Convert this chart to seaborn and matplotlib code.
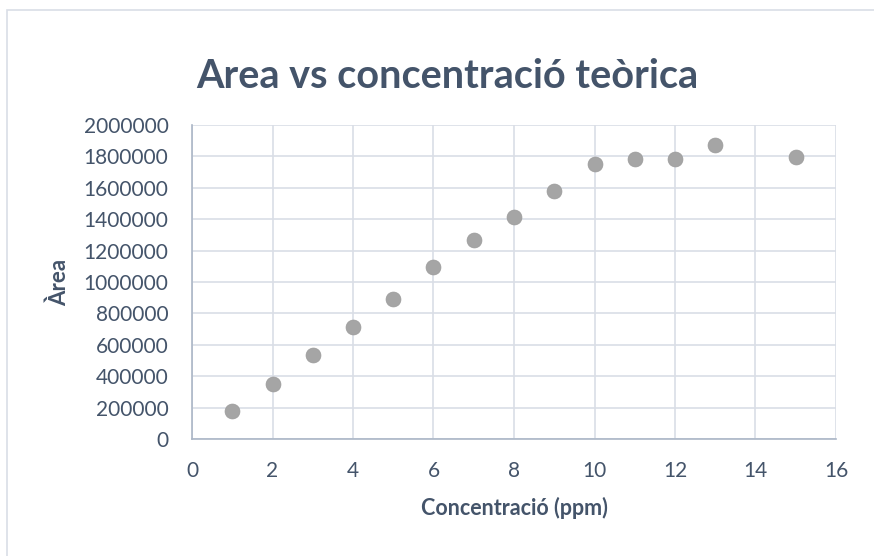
import matplotlib
matplotlib.use("Agg")
import matplotlib.pyplot as plt
import seaborn as sns
import pandas as pd
from matplotlib.patches import Rectangle

concentracio = [1, 2, 3, 4, 5, 6, 7, 8, 9, 10, 11, 12, 13, 15]
area = [181000, 352000, 534000, 713000, 889000, 1094000, 1269000,
        1413000, 1582000, 1749000, 1781000, 1781000, 1870000, 1796000]
x_ticks = [0, 2, 4, 6, 8, 10, 12, 14, 16]
y_ticks = [0, 200000, 400000, 600000, 800000, 1000000, 1200000,
           1400000, 1600000, 1800000, 2000000]

df = pd.DataFrame({"Concentració (ppm)": concentracio, "Àrea": area})

sns.set_theme(style="white")
plt.rcParams["font.family"] = ["Lato", "DejaVu Sans"]

text_col = "#44546A"
grid_col = "#D9DEE6"
spine_col = "#ABB6C6"

fig = plt.figure(figsize=(8.74, 5.56), dpi=100)
ax = fig.add_axes([192/874, 1 - 439/556, (836-192)/874, (439-125)/556])

sns.scatterplot(data=df, x="Concentració (ppm)", y="Àrea", ax=ax,
                color="#A5A5A5", s=115, edgecolor="#9A9A9A", linewidth=0.5,
                zorder=3)

ax.set_xlim(0, 16)
ax.set_ylim(0, 2000000)
ax.set_xticks(x_ticks)
ax.set_yticks(y_ticks)
ax.set_xticklabels([str(v) for v in x_ticks])
ax.set_yticklabels([str(v) for v in y_ticks])
ax.grid(True, color=grid_col, linewidth=1.2, zorder=0)
ax.set_axisbelow(True)
for side in ["top", "right"]:
    ax.spines[side].set_visible(False)
for side in ["left", "bottom"]:
    ax.spines[side].set_color(spine_col)
    ax.spines[side].set_linewidth(1.2)
ax.tick_params(axis="both", length=0, labelsize=15, colors=text_col)
ax.tick_params(axis="x", pad=16)
ax.tick_params(axis="y", pad=17)

ax.set_xlabel("Concentració (ppm)", fontsize=15.5, fontweight="bold",
              color=text_col, labelpad=11)
ax.set_ylabel("Àrea", fontsize=16, fontweight="bold", color=text_col,
              labelpad=10)

fig.text(447/874, 1 - 76/556, "Area vs concentració teòrica",
         ha="center", va="center", fontsize=28.5, fontweight="bold",
         color=text_col)

fig.patches.append(Rectangle((6.5/874, -0.1), 1.2, (556 - 9.5)/556 + 0.1,
                             transform=fig.transFigure, fill=False,
                             edgecolor="#D9DEE6", linewidth=1.2))

fig.savefig("out.png", dpi=100, facecolor="white")
